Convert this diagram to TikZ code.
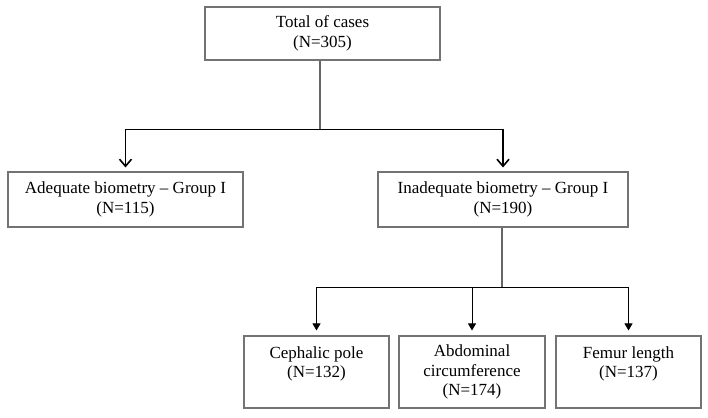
\documentclass[tikz,border=0pt]{standalone}
\usepackage{fontspec}
\setmainfont{Liberation Serif}
\usetikzlibrary{arrows.meta}

\begin{document}
\begin{tikzpicture}[x=1pt, y=1pt,
    box/.style={draw=black!55, line width=1.1pt, align=center, inner sep=0pt,
        font=\fontsize{17}{19.5}\selectfont},
    link/.style={line width=0.9pt},
    stem/.style={draw=black!60, line width=1.1pt},
    bigarrow/.style={line width=1.6pt, -{Straight Barb[length=7pt, width=12pt]}, shorten >=4pt},
    smallarrow/.style={line width=0.9pt, -{Triangle[length=7pt, width=8pt]}, shorten >=5pt}]

    % Page frame
    \useasboundingbox (0,0) rectangle (708,-417);

    % Boxes
    \node[box, minimum width=235, minimum height=53] (total) at (322.5,-33.5)
        {Total of cases\\(N=305)};
    \node[box, minimum width=235, minimum height=55] (adequate) at (125.5,-199.5)
        {Adequate biometry -- Group I\\(N=115)};
    \node[box, minimum width=250, minimum height=55] (inadequate) at (503,-199.5)
        {Inadequate biometry -- Group I\\(N=190)};
    \node[box, minimum width=145, minimum height=72] (cephalic) at (316.5,-372)
        {Cephalic pole\\(N=132)\\\mbox{}};
    \node[box, minimum width=146, minimum height=72] (abdominal) at (472,-372)
        {Abdominal\\circumference\\(N=174)};
    \node[box, minimum width=145, minimum height=72] (femur) at (628.5,-372)
        {Femur length\\(N=137)\\\mbox{}};

    % First split
    \coordinate (split1) at (320,-129);
    \draw[stem] (total.south -| split1) -- (split1);
    \draw[link] (split1) -- (adequate.north |- split1);
    \draw[link] (split1) -- (inadequate.north |- split1);
    \draw[bigarrow] (adequate.north |- split1) -- (adequate.north);
    \draw[bigarrow] (inadequate.north |- split1) -- (inadequate.north);

    % Second split
    \coordinate (split2) at (502,-287);
    \draw[stem] (inadequate.south -| split2) -- (split2);
    \draw[link] (cephalic.north |- split2) -- (femur.north |- split2);
    \foreach \part in {cephalic, abdominal, femur}
        \draw[smallarrow] (\part.north |- split2) -- (\part.north);

\end{tikzpicture}
\end{document}
